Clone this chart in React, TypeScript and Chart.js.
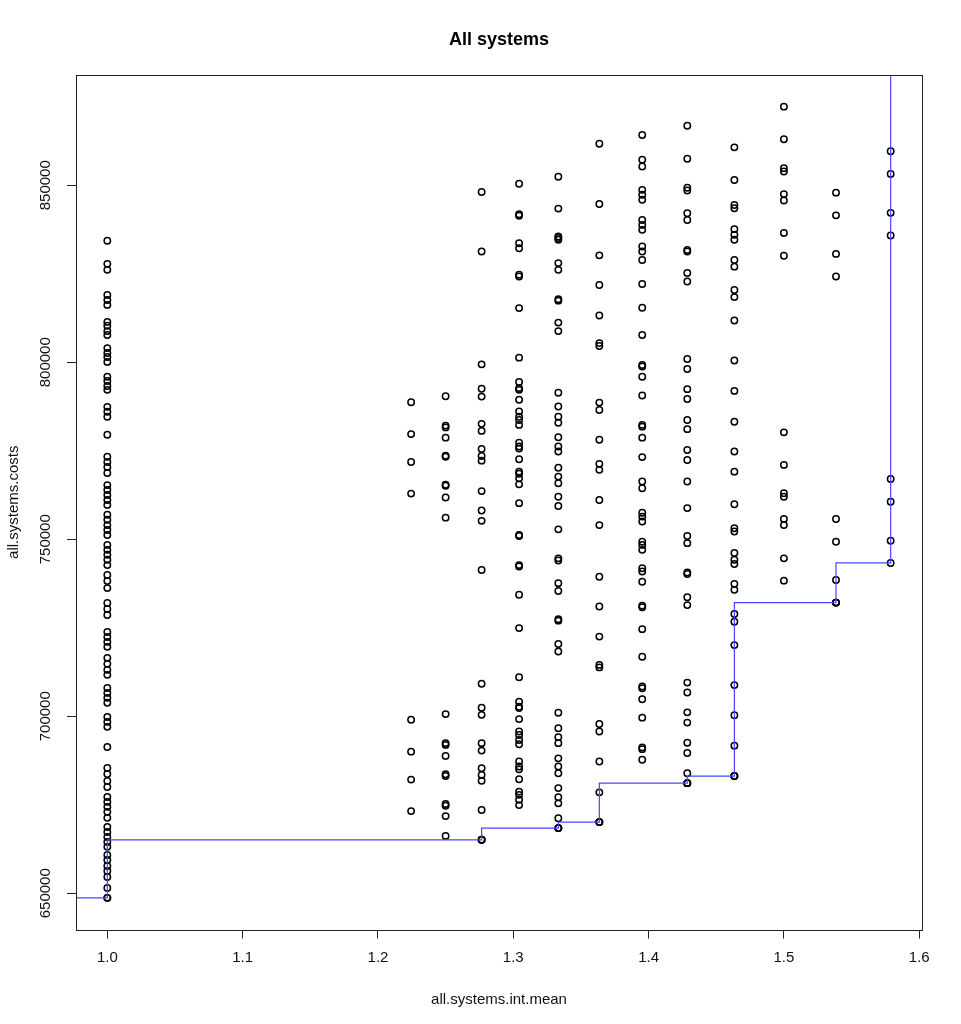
import React, { useEffect, useRef } from "react";
import { Chart, registerables } from "chart.js";

Chart.register(...registerables);

// x levels of the point columns (all.systems.int.mean)
const xLevels = [1.0, 1.2245, 1.25, 1.2766, 1.3043, 1.3333, 1.3636, 1.3953, 1.4286, 1.4634, 1.5, 1.5385, 1.5789];

// all.systems.costs, one list per x level
const costs1000 = [
  834300, 827800, 826100, 819000, 817600, 816200, 811400, 810300, 808800, 807700, 804000, 802600, 801500, 800100,
  795900, 794700, 793300, 792200, 787400, 786000, 784600, 779500, 773300, 771800, 770400, 768700, 765300, 763900,
  762500, 761100, 759700, 756900, 755500, 754000, 752600, 751200, 748400, 747000, 745600, 744200, 742700, 739900,
  738200, 736200, 732000, 730300, 728600, 723800, 722400, 721000, 719600, 716500, 714800, 713100, 711700, 708000,
  706600, 705200, 703800, 699800, 698400, 697000, 691300, 685400, 683700, 681700, 680000, 677200, 675800, 674400,
  673000, 671300, 668700, 667300, 665900, 664500, 663100, 660800, 659400, 657700, 656300, 654600, 651500, 648700,
  648700,
];
const costs1225 = [788700, 779700, 771800, 762900, 699000, 690000, 682100, 673200];
const costs1250 = [
  790400, 782100, 781600, 778700, 773600, 773300, 765400, 765100, 761800, 756100, 700600, 692400, 691900, 688800,
  683600, 683100, 675200, 674700, 671800, 666200,
];
const costs1277 = [
  848100, 831300, 799400, 792500, 790300, 782600, 780600, 775500, 773500, 772200, 763600, 758100, 755200, 741300,
  709200, 702400, 700400, 692400, 690300, 685300, 683400, 681800, 673500, 665100, 665100, 665100,
];
const costs1304 = [
  850400, 841800, 841400, 833600, 832200, 824700, 824200, 815300, 801300, 794400, 792700, 792200, 789400, 786100,
  784600, 783700, 782300, 777300, 776200, 775600, 772600, 769100, 768500, 767200, 765500, 760200, 751200, 750900,
  742700, 742300, 734300, 724900, 711000, 704100, 702700, 702300, 699200, 695700, 694700, 693300, 692100, 687200,
  685800, 685000, 682200, 678700, 677800, 676400, 674900,
];
const costs1333 = [
  852400, 843400, 835500, 835100, 834600, 828000, 826100, 817800, 817400, 811200, 808800, 791400, 787500, 784600,
  782900, 778800, 776200, 774800, 770200, 767700, 765800, 762000, 759400, 752800, 744600, 744000, 737600, 735400,
  727400, 727000, 720400, 718300, 701000, 696600, 694100, 692400, 688100, 685800, 683900, 679700, 677100, 675400,
  671200, 668400, 668400, 668400,
];
const costs1364 = [
  861700, 844700, 830200, 821800, 813200, 805400, 804600, 788600, 786500, 778100, 771300, 769600, 761100, 754000,
  739400, 731000, 722500, 714500, 713800, 697800, 695700, 687200, 678500, 670100, 670100, 670100,
];
const costs1395 = [
  864200, 857200, 855300, 848700, 847300, 845900, 840200, 838800, 837400, 832700, 831300, 828900, 822100, 815400,
  807700, 799200, 798800, 795900, 790600, 782300, 781800, 778700, 773200, 766300, 764400, 757500, 756400, 755000,
  749300, 748400, 747000, 741800, 740900, 738000, 731200, 730800, 724600, 716800, 708400, 707900, 704800, 699600,
  691200, 690700, 687700,
];
const costs1429 = [
  866800, 857500, 849300, 848500, 842100, 840200, 831700, 831300, 825200, 822800, 800900, 798100, 792400, 789600,
  783700, 781100, 775200, 772400, 766300, 758800, 750900, 748900, 740600, 740200, 733600, 731400, 709500, 706700,
  701100, 698200, 692500, 689600, 683900, 681100, 681100, 681100,
];
const costs1463 = [
  860700, 851500, 844400, 843500, 837600, 836000, 834600, 828900, 827000, 820400, 818400, 811800, 800500, 791900,
  783200, 774800, 769100, 759900, 753100, 752200, 746100, 744200, 743000, 737400, 735700, 728900, 726700, 720100,
  708800, 700300, 691700, 683100, 683100, 683100,
];
const costs1500 = [
  872200, 863000, 854800, 853900, 847500, 845700, 836500, 830100, 780200, 771000, 763000, 762000, 755700, 754000,
  744600, 738300,
];
const costs1538 = [847900, 841500, 830600, 824200, 755700, 749300, 738500, 732100, 732100, 732100];
const costs1579 = [859600, 853200, 842200, 835800, 767000, 760600, 749600, 743300];

const costColumns = [
  costs1000, costs1225, costs1250, costs1277, costs1304, costs1333, costs1364,
  costs1395, costs1429, costs1463, costs1500, costs1538, costs1579,
];

// blue step line (vertical first, then across)
const frontierX = [0.9, 1.0, 1.2766, 1.3333, 1.3636, 1.4286, 1.4634, 1.5385, 1.5789, 1.5789];
const frontierY = [648700, 648700, 665100, 668400, 670100, 681100, 683100, 732100, 743300, 900000];

const xTicks = [1.0, 1.1, 1.2, 1.3, 1.4, 1.5, 1.6];
const yTicks = [650000, 700000, 750000, 800000, 850000];

const FONT = "'Liberation Sans', Arial, Helvetica, sans-serif";

// R style limits: data range plus 4% on each side
const allCosts = costColumns.flat();
const xPad = (Math.max(...xLevels) - Math.min(...xLevels)) * 0.04;
const yPad = (Math.max(...allCosts) - Math.min(...allCosts)) * 0.04;

const boxAndTitle = {
  id: "boxAndTitle",
  afterDraw(chart: Chart) {
    const { ctx, chartArea: a } = chart;
    ctx.save();
    ctx.strokeStyle = "#222";
    ctx.lineWidth = 1;
    ctx.strokeRect(Math.round(a.left) + 0.5, Math.round(a.top) + 0.5, Math.round(a.right - a.left), Math.round(a.bottom - a.top));
    ctx.fillStyle = "#000";
    ctx.font = `bold 18px ${FONT}`;
    ctx.textAlign = "center";
    ctx.textBaseline = "alphabetic";
    ctx.fillText("All systems", (a.left + a.right) / 2, 45);
    ctx.restore();
  },
};

const App: React.FC = () => {
  const canvasRef = useRef<HTMLCanvasElement | null>(null);
  const chartRef = useRef<Chart | null>(null);

  useEffect(() => {
    document.body.style.margin = "0";
    if (!canvasRef.current) return;
    const ctx = canvasRef.current.getContext("2d");
    if (!ctx) return;
    if (chartRef.current) chartRef.current.destroy();

    const points = costColumns.flatMap((col, i) => col.map((c) => ({ x: xLevels[i], y: c })));
    const frontier = frontierX.map((x, i) => ({ x, y: frontierY[i] }));

    chartRef.current = new Chart(ctx, {
      type: "scatter",
      data: {
        datasets: [
          {
            type: "line",
            label: "frontier",
            data: frontier,
            showLine: true,
            stepped: "after",
            borderColor: "rgb(70,70,255)",
            borderWidth: 1.2,
            pointRadius: 0,
            fill: false,
          },
          {
            label: "systems",
            data: points,
            pointStyle: "circle",
            pointRadius: 3.2,
            pointBorderWidth: 1.5,
            pointBorderColor: "#000",
            pointBackgroundColor: "rgba(0,0,0,0)",
          },
        ],
      },
      options: {
        responsive: false,
        devicePixelRatio: 1,
        animation: false,
        events: [],
        layout: { padding: { top: 75, right: 39, bottom: 0, left: 0 } },
        plugins: { legend: { display: false }, tooltip: { enabled: false }, title: { display: false } },
        scales: {
          x: {
            type: "linear",
            position: "bottom",
            min: Math.min(...xLevels) - xPad,
            max: Math.max(...xLevels) + xPad,
            afterFit: (s: any) => {
              s.height = 94.5;
            },
            afterBuildTicks: (axis: any) => {
              axis.ticks = xTicks.map((value) => ({ value }));
            },
            grid: { drawOnChartArea: false, drawTicks: true, tickLength: 9, color: "#222", lineWidth: 1 },
            border: { display: false },
            ticks: {
              autoSkip: false,
              maxRotation: 0,
              minRotation: 0,
              padding: 10.5,
              color: "#111",
              font: { family: FONT, size: 15 },
              callback: (v: any) => Number(v).toFixed(1),
            },
            title: {
              display: true,
              text: "all.systems.int.mean",
              color: "#111",
              font: { family: FONT, size: 15 },
              padding: { top: 0, bottom: 15 },
            },
          },
          y: {
            type: "linear",
            position: "left",
            min: Math.min(...allCosts) - yPad,
            max: Math.max(...allCosts) + yPad,
            afterFit: (s: any) => {
              s.width = 76;
            },
            afterBuildTicks: (axis: any) => {
              axis.ticks = yTicks.map((value) => ({ value }));
            },
            grid: { drawOnChartArea: false, drawTicks: true, tickLength: 9, color: "#222", lineWidth: 1 },
            border: { display: false },
            ticks: {
              autoSkip: false,
              minRotation: 90,
              maxRotation: 90,
              crossAlign: "center",
              padding: -4,
              color: "#111",
              font: { family: FONT, size: 15 },
              callback: (v: any) => String(v),
            },
            title: {
              display: true,
              text: "all.systems.costs",
              color: "#111",
              font: { family: FONT, size: 15 },
              padding: { top: 5, bottom: 0 },
            },
          },
        },
      },
      plugins: [boxAndTitle],
    });

    return () => {
      if (chartRef.current) {
        chartRef.current.destroy();
        chartRef.current = null;
      }
    };
  }, []);

  return (
    <div style={{ width: "961px", height: "1024px", background: "#fff" }}>
      <canvas ref={canvasRef} width={961} height={1024} style={{ width: "961px", height: "1024px" }} />
    </div>
  );
};

export default App;
